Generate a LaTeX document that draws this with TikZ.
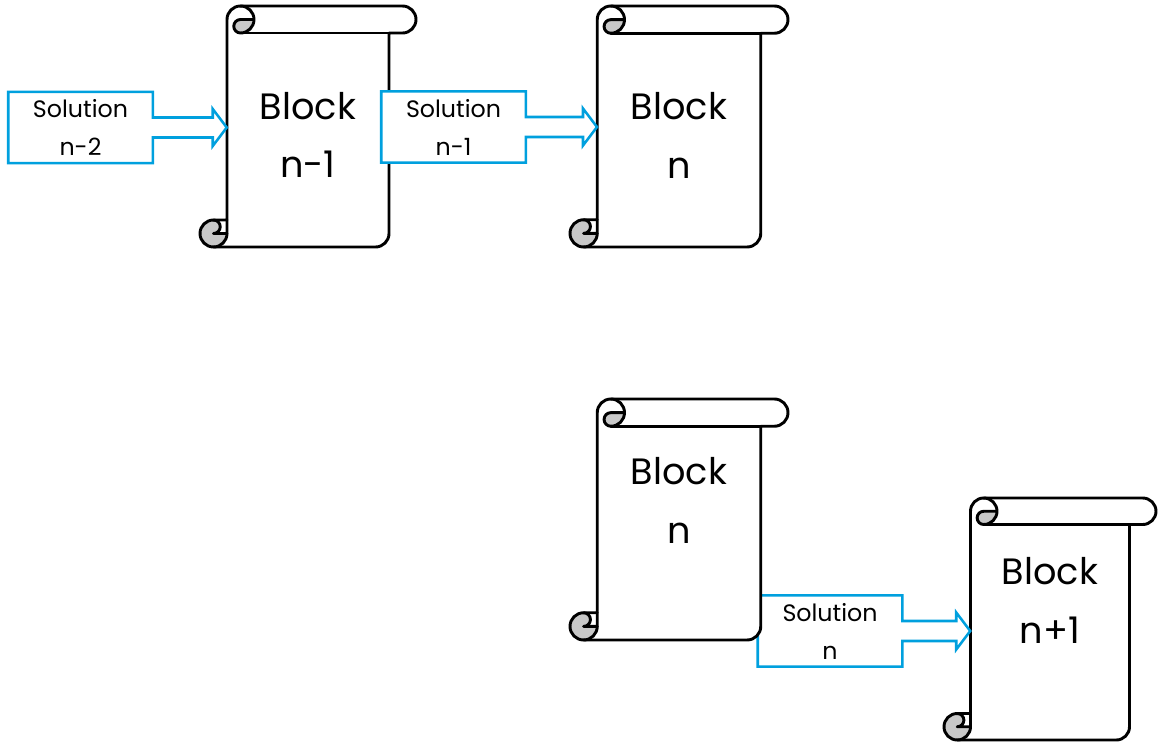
\documentclass[tikz,border=0pt]{standalone}
\usepackage{fontspec}
\setmainfont{Poppins}
\usetikzlibrary{calc}

\definecolor{solblue}{RGB}{0,160,222}
\definecolor{curlgrey}{RGB}{200,200,200}

%% scroll shape: name, left, top, width, height, text, text raise
\newcommand{\blockscroll}[7]{%
  \pgfmathsetmacro{\scrch}{0.125*min(#4,#5)}
  \pgfmathsetmacro{\scrhalf}{\scrch/2}
  \pgfmathsetmacro{\scrquart}{\scrch/4}
  \begin{scope}[shift={(#2,#3)}]
    %% outline filled white
    \fill[white] ({\scrch},{#5-\scrch}) -- ({\scrch},{\scrhalf})
      arc[start angle=180,end angle=270,radius=\scrhalf] -- ({#4-\scrhalf},0)
      arc[start angle=270,end angle=450,radius=\scrhalf] -- ({#4-\scrch},{\scrch})
      -- ({#4-\scrch},{#5-\scrhalf}) arc[start angle=0,end angle=90,radius=\scrhalf]
      -- ({\scrhalf},{#5}) arc[start angle=90,end angle=270,radius=\scrhalf] -- cycle;
    %% grey curls
    \fill[curlgrey] ({2*\scrch},{\scrhalf}) arc[start angle=0,end angle=90,radius=\scrhalf]
      arc[start angle=90,end angle=270,radius=\scrquart] -- cycle;
    \fill[curlgrey] ({\scrhalf},{#5-\scrhalf}) circle[radius=\scrhalf];
    \fill[white] ({\scrhalf},{#5-\scrch}) -- ({\scrch},{#5-\scrch}) -- ({\scrch},{#5-\scrhalf})
      -- ({\scrhalf},{#5-\scrhalf}) arc[start angle=90,end angle=-90,radius=\scrquart] -- cycle;
    %% strokes
    \draw[scrollline] ({\scrch},{#5-\scrch}) -- ({\scrch},{\scrhalf})
      arc[start angle=180,end angle=270,radius=\scrhalf] -- ({#4-\scrhalf},0)
      arc[start angle=270,end angle=450,radius=\scrhalf] -- ({#4-\scrch},{\scrch})
      -- ({#4-\scrch},{#5-\scrhalf}) arc[start angle=0,end angle=90,radius=\scrhalf]
      -- ({\scrhalf},{#5}) arc[start angle=90,end angle=270,radius=\scrhalf] -- cycle;
    \draw[scrollline] ({1.5*\scrch},0) arc[start angle=270,end angle=450,radius=\scrhalf]
      arc[start angle=90,end angle=270,radius=\scrquart] -- ({2*\scrch},{\scrhalf});
    \draw[scrollline] ({#4-\scrch},{\scrch}) -- ({1.5*\scrch},{\scrch});
    \draw[scrollline] ({\scrhalf},{#5-\scrch}) arc[start angle=270,end angle=450,radius=\scrquart]
      -- ({\scrch},{#5-\scrhalf});
    \draw[scrollline] ({\scrhalf},{#5}) arc[start angle=90,end angle=0,radius=\scrhalf]
      -- ({\scrch},{#5-\scrch});
    %% body node and text
    \node[minimum width={(#4-2*\scrch)*0.75pt},minimum height={(#5-\scrch)*0.75pt},inner sep=0pt]
      (#1) at ({#4/2},{(#5+\scrch)/2}) {};
    \node[blocktext] (#1-text) at ({#4/2},{(#5+\scrch)/2-#7}) {#6};
  \end{scope}
}

%% callout: name, centre x, centre y, text, target scroll
\newcommand{\solution}[5]{%
  \node[soltext] (#1) at (#2,#3) {#4};
  \coordinate (#1-tip) at (#5.west |- #1.east);
  \filldraw[callout] (#1.north west) -- (#1.north east) -- ([yshift=7.5pt]#1.east)
    -- ([shift={(-10.5pt,7.5pt)}]#1-tip) -- ([shift={(-10.5pt,13.9pt)}]#1-tip) -- (#1-tip)
    -- ([shift={(-10.5pt,-13.9pt)}]#1-tip) -- ([shift={(-10.5pt,-7.5pt)}]#1-tip)
    -- ([yshift=-7.5pt]#1.east) -- (#1.south east) -- (#1.south west) -- cycle;
  \node[soltext] at (#1) {#4};
}

\begin{document}
\begin{tikzpicture}[x=0.75pt,y=-0.75pt,
    scrollline/.style={line width=2.2pt,line join=round,line cap=round},
    blocktext/.style={inner sep=0pt,align=center,font=\fontsize{27.5}{44}\selectfont},
    soltext/.style={inner sep=0pt,minimum width=108pt,minimum height=53pt,align=center,
      font=\fontsize{17.8}{28.5}\selectfont},
    callout/.style={draw=solblue,fill=white,line width=1.9pt,line join=miter}]
  \useasboundingbox (0,0) rectangle (1158,743);

  %% upper row
  \blockscroll{bk1}{200}{6}{216}{241}{Block\\n-1}{5}
  \solution{sol1}{80.5}{127.5}{Solution\\n-2}{bk1}
  \blockscroll{bk2}{570}{6}{218}{241}{Block\\n}{5}
  \solution{sol2}{453.5}{127}{Solution\\n-1}{bk2}

  %% lower row
  \blockscroll{bk4}{944}{498}{212}{242}{Block\\n+1}{32}
  \solution{sol3}{830}{631}{Solution\\n}{bk4}
  \blockscroll{bk3}{570}{399}{218}{241}{Block\\n}{33}
\end{tikzpicture}
\end{document}
